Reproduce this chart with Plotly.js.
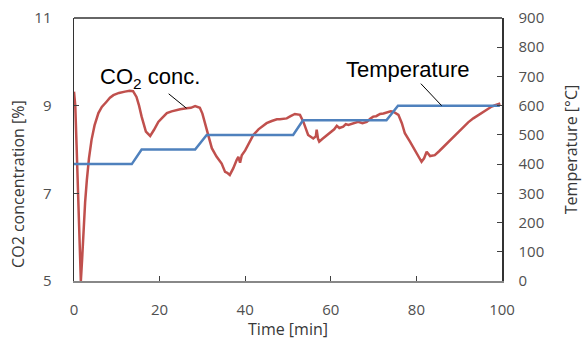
<!DOCTYPE html>
<html>
<head>
<meta charset="utf-8">
<script src="https://cdn.plot.ly/plotly-3.0.1.min.js"></script>
<style>html,body{margin:0;padding:0;background:#fff;}#chart{width:582px;height:340px;}</style>
</head>
<body>
<div id="chart"></div>
<script>
const co2Time = [0,0.3,0.6,1.0,1.3,1.6,1.9,2.2,2.6,3.0,3.5,4.1,4.8,5.7,6.5,7.6,8.4,9.2,10.5,11.9,13.0,13.8,14.6,15.2,15.8,16.8,17.8,18.7,19.7,20.6,21.7,22.8,24.0,24.8,26.3,27.3,28.3,29.4,30.0,30.6,31.4,32.2,33.3,34.5,35.3,35.8,36.4,37.2,38.0,38.4,38.8,39.2,40.0,40.7,41.9,43.1,44.0,45.0,46.2,47.4,48.1,49.7,50.6,51.6,52.8,53.6,54.7,55.9,56.5,56.7,57.0,57.3,58.0,58.6,59.4,60.2,60.8,61.4,62.0,62.9,63.5,64.1,65.3,66.4,67.4,68.4,69.2,69.9,70.6,71.5,72.3,73.1,74.0,74.6,75.8,76.6,77.3,78.5,79.7,80.5,81.2,81.8,82.4,83.2,84.3,85.3,86.3,87.5,88.6,89.8,91.0,92.1,93.3,94.5,95.6,96.6,97.6,98.4,99.1,99.6];
const co2Conc = [9.32,9.0,8.1,6.8,5.8,5.0,5.5,6.16,6.8,7.3,7.8,8.22,8.55,8.83,8.97,9.09,9.18,9.24,9.29,9.32,9.34,9.33,9.2,9.0,8.75,8.41,8.31,8.45,8.63,8.72,8.83,8.87,8.9,8.92,8.94,8.95,8.99,8.95,8.82,8.6,8.29,8.03,7.84,7.68,7.49,7.47,7.42,7.57,7.76,7.83,7.70,7.87,7.98,8.10,8.33,8.46,8.53,8.6,8.65,8.69,8.69,8.71,8.76,8.81,8.79,8.63,8.33,8.25,8.3,8.45,8.25,8.18,8.24,8.29,8.34,8.41,8.46,8.54,8.49,8.52,8.58,8.56,8.6,8.63,8.6,8.63,8.7,8.75,8.76,8.81,8.82,8.85,8.87,8.86,8.79,8.6,8.37,8.18,7.99,7.85,7.72,7.80,7.95,7.85,7.87,7.96,8.06,8.18,8.29,8.41,8.52,8.62,8.71,8.79,8.86,8.92,8.98,9.01,9.04,9.05];
const tempTime = [0,13.5,15.8,28.3,31.0,51.2,53.5,73.0,75.7,99.5];
const tempVal = [400,400,450,450,500,500,550,550,600,600];
const xTicks = [0,20,40,60,80,100];
const co2Ticks = [5,7,9,11];
const tempTicks = [0,100,200,300,400,500,600,700,800,900];

const labelFont = {family:'"Open Sans", "Noto Sans", sans-serif', size:15, color:'#505050'};
const titleFont = {family:'"Open Sans", "Noto Sans", sans-serif', size:16, color:'#383838'};
const annFont = {family:'"Liberation Sans", Arial, sans-serif', size:22, color:'#000'};

const traces = [
  {x: co2Time, y: co2Conc, type:'scatter', mode:'lines', name:'CO2 conc.', line:{color:'#C0504D', width:2.5}, yaxis:'y'},
  {x: tempTime, y: tempVal, type:'scatter', mode:'lines', name:'Temperature', line:{color:'#4F81BD', width:2.5}, yaxis:'y2'}
];

const layout = {
  width:582, height:340,
  margin:{l:74, r:80, t:18, b:59},
  paper_bgcolor:'#fff', plot_bgcolor:'#fff',
  showlegend:false,
  xaxis:{range:[0,100], tickvals:xTicks, ticks:'inside', ticklen:5, tickcolor:'#404040',
    showgrid:false, zeroline:false, showline:true, linecolor:'#888', linewidth:1.5, mirror:false,
    tickfont:labelFont, ticklabelstandoff:14,
    title:{text:'Time [min]', font:titleFont, standoff:2}},
  yaxis:{range:[5,11], tickvals:co2Ticks, ticks:'inside', ticklen:5, tickcolor:'#404040',
    showgrid:false, zeroline:false, showline:true, linecolor:'#333', linewidth:1.5,
    tickfont:labelFont, ticklabelstandoff:18},
  yaxis2:{range:[0,900], tickvals:tempTicks, overlaying:'y', side:'right', ticks:'inside', ticklen:5, tickcolor:'#404040',
    showgrid:false, zeroline:false, showline:true, linecolor:'#333', linewidth:1.5,
    tickfont:labelFont, ticklabelstandoff:12,
    title:{text:'Temperature [°C]', font:titleFont, standoff:23}},
  shapes:[{type:'line', xref:'paper', yref:'paper', x0:0, x1:1, y0:1, y1:1, line:{color:'#333', width:1.5}}],
  annotations:[
    {x:-0.131, y:0.369, xref:'paper', yref:'paper', text:'CO2 concentration [%]', textangle:-90, font:titleFont, showarrow:false, xanchor:'center', yanchor:'middle'},
    {x:26.3, y:8.94, xref:'x', yref:'y', text:'CO<sub>2</sub> conc.', font:annFont, showarrow:true, arrowhead:0, arrowwidth:1, arrowcolor:'#000', ax:-37, ay:-30},
    {x:85.9, y:600, xref:'x', yref:'y2', text:'Temperature', font:annFont, showarrow:true, arrowhead:0, arrowwidth:1, arrowcolor:'#000', ax:-34, ay:-36}
  ]
};
Plotly.newPlot('chart', traces, layout, {displayModeBar:false, staticPlot:true});
</script>
</body>
</html>
